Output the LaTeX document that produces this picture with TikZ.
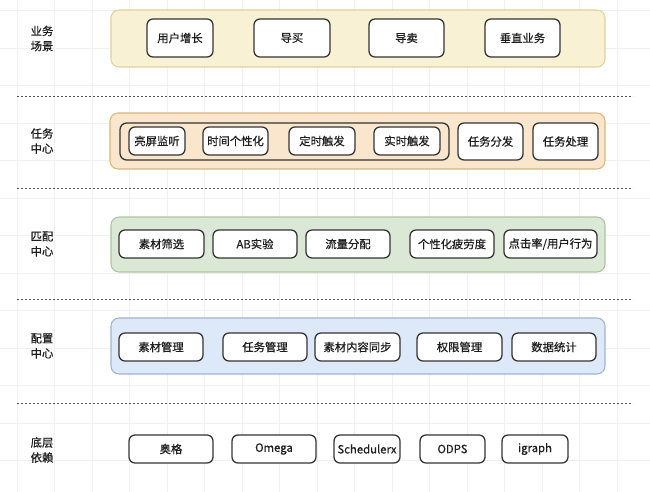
\documentclass[tikz,border=0pt]{standalone}
\usepackage{fontspec}
\setmainfont{Noto Sans CJK SC}[FakeBold=0.6, AutoFakeBold=0.6]
\usetikzlibrary{fit}
\definecolor{gridc}{HTML}{F0F0F0}
\definecolor{dashc}{HTML}{555555}
\definecolor{txt}{HTML}{1E1E1E}
\definecolor{yfill}{HTML}{F8F1D3}\definecolor{ydraw}{HTML}{E0D29C}
\definecolor{ofill}{HTML}{F9E6CC}\definecolor{odraw}{HTML}{DDB47C}
\definecolor{gfill}{HTML}{DCE8D6}\definecolor{gdraw}{HTML}{AAC59E}
\definecolor{bfill}{HTML}{DDE8F8}\definecolor{bdraw}{HTML}{9EB4D7}
\definecolor{ibdraw}{HTML}{333333}
\tikzset{
  ibox/.style={draw=ibdraw, line width=0.95pt, fill=white, rounded corners=4.5pt, inner sep=0pt},
  itext/.style={font=\fontsize{8.5pt}{10pt}\selectfont\bfseries, text=txt, inner sep=0pt},
  layer/.style={line width=0.8pt, rounded corners=6pt, inner sep=0pt},
  sidelabel/.style={align=center, font=\fontsize{8.5pt}{11.3pt}\selectfont\bfseries, text=txt, inner sep=0pt},
  sep/.style={dashc, line width=0.7pt, dash pattern=on 1.7pt off 1.3pt},
  gridline/.style={gridc, line width=0.5pt}
}
\newcommand\ibx[6]{\node[ibox, fit={(#2,#3)(#4,#5)}, label={[itext]center:#6}] (#1) {};}
\begin{document}
\begin{tikzpicture}[x=0.75pt,y=-0.75pt]
\useasboundingbox (0,0) rectangle (650,492);
\fill[white] (0,0) rectangle (650,492);
% grid
\foreach \i in {0,...,16} \draw[gridline] (17+37.5*\i,0) -- (17+37.5*\i,492);
\foreach \j in {0,...,12} \draw[gridline] (0,10.5+37.5*\j) -- (650,10.5+37.5*\j);

% separators
\coordinate (s1a) at (17,96);  \coordinate (s1b) at (633,96);
\coordinate (s2a) at (17,188); \coordinate (s2b) at (633,188);
\coordinate (s3a) at (17,299); \coordinate (s3b) at (633,299);
\coordinate (s4a) at (17,403); \coordinate (s4b) at (633,403);
\draw[sep] (s1a) -- (s1b);
\draw[sep] (s2a) -- (s2b);
\draw[sep] (s3a) -- (s3b);
\draw[sep] (s4a) -- (s4b);

% side labels
\node[sidelabel] (l1) at (42,38.5) {业务\\场景};
\node[sidelabel] (l2) at (42,141) {任务\\中心};
\node[sidelabel] (l3) at (42,244) {匹配\\中心};
\node[sidelabel] (l4) at (42,346) {配置\\中心};
\node[sidelabel] (l5) at (42,450) {底层\\依赖};

% layer 1
\node[layer, draw=ydraw, fill=yfill, fit={(111,10)(605,67)}] (L1) {};
\ibx{a1}{147}{19}{213}{57}{用户增长}
\ibx{a2}{254}{19}{330}{57}{导买}
\ibx{a3}{369}{19}{444}{57}{导卖}
\ibx{a4}{485}{19}{560}{57}{垂直业务}

% layer 2
\node[layer, draw=odraw, fill=ofill, fit={(110,113)(605,169)}] (L2) {};
\node[draw=ibdraw, line width=0.95pt, rounded corners=5pt, inner sep=0pt, fit={(120,123)(449,160)}] (grp) {};
\ibx{b1}{129}{127}{185}{155}{亮屏监听}
\ibx{b2}{203}{127}{268}{155}{时间个性化}
\ibx{b3}{289}{127}{355}{155}{定时触发}
\ibx{b4}{374}{127}{440}{155}{实时触发}
\ibx{b5}{458}{123}{523}{160}{任务分发}
\ibx{b6}{533}{123}{598}{160}{任务处理}

% layer 3
\node[layer, draw=gdraw, fill=gfill, fit={(111,217)(605,272)}] (L3) {};
\ibx{c1}{119}{230}{204}{258}{素材筛选}
\ibx{c2}{213}{230}{297}{258}{AB实验}
\ibx{c3}{306}{230}{390}{258}{流量分配}
\ibx{c4}{410}{230}{494}{258}{个性化疲劳度}
\ibx{c5}{504}{230}{597}{258}{点击率/用户行为}

% layer 4
\node[layer, draw=bdraw, fill=bfill, fit={(111,318)(605,374)}] (L4) {};
\ibx{d1}{119}{333}{203}{361}{素材管理}
\ibx{d2}{223}{333}{307}{361}{任务管理}
\ibx{d3}{315}{333}{400}{361}{素材内容同步}
\ibx{d4}{417}{333}{502}{361}{权限管理}
\ibx{d5}{512}{333}{596}{361}{数据统计}

% layer 5
\ibx{e1}{129}{435}{213}{463}{奥格}
\ibx{e2}{232}{435}{316}{463}{Omega}
\ibx{e3}{334}{435}{400}{463}{Schedulerx}
\ibx{e4}{420}{435}{485}{463}{ODPS}
\ibx{e5}{502}{435}{568}{463}{igraph}
\end{tikzpicture}
\end{document}
